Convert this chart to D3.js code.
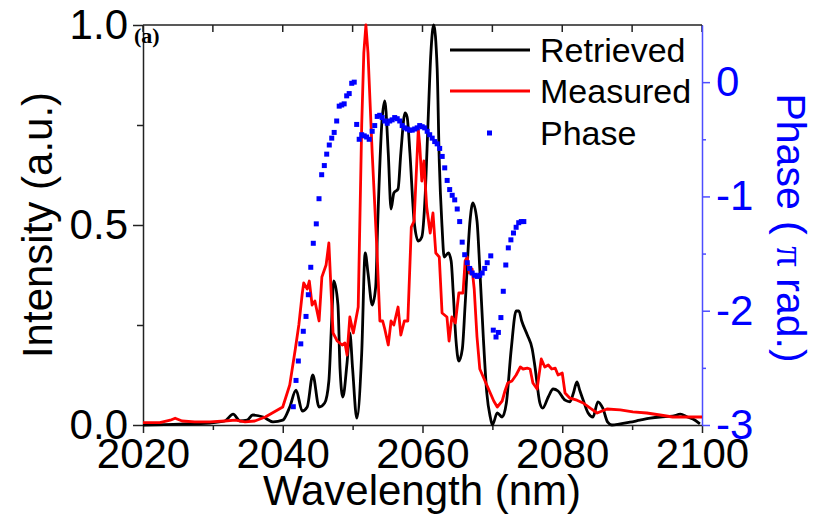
<!DOCTYPE html>
<html>
<head>
<meta charset="UTF-8" />
<script src="https://cdn.jsdelivr.net/npm/d3@7"></script>
<style>
    body { margin: 0; background: #fff; }
    svg text { font-family: "Liberation Sans", Arial, sans-serif; }
</style>
</head>
<body>
<div id="chart"></div>
<script>
// Retrieved spectrum (black)
const retrievedWl = [2020.0, 2025.3, 2029.6, 2031.7, 2032.9, 2033.9, 2034.9, 2035.7, 2037.2, 2038.6,
    2040.0, 2041.0, 2041.9, 2042.8, 2043.5, 2044.3, 2045.2, 2046.0, 2046.6, 2047.0,
    2047.3, 2047.9, 2048.2, 2048.6, 2049.2, 2049.6, 2050.0, 2050.6, 2051.3, 2051.8,
    2052.2, 2052.8, 2053.3, 2053.6, 2054.2, 2054.6, 2055.1, 2055.5, 2055.9, 2056.5,
    2056.9, 2057.5, 2057.8, 2058.2, 2058.8, 2059.4, 2059.9, 2060.4, 2060.8, 2061.2,
    2061.6, 2062.1, 2062.4, 2062.8, 2063.1, 2063.7, 2064.1, 2064.4, 2064.8, 2065.2,
    2065.7, 2066.1, 2066.8, 2067.2, 2067.8, 2068.2, 2068.7, 2069.2, 2069.7, 2070.0,
    2070.7, 2071.4, 2072.0, 2072.7, 2073.4, 2073.8, 2074.2, 2075.0, 2075.7, 2076.1,
    2076.8, 2077.2, 2078.0, 2078.7, 2079.4, 2080.4, 2081.1, 2081.6, 2082.1, 2082.5,
    2083.0, 2083.7, 2084.4, 2085.1, 2085.8, 2086.5, 2087.1, 2088.3, 2089.7, 2091.1,
    2092.6, 2094.0, 2095.8, 2096.9, 2097.9, 2098.7, 2099.7];
const retrievedInt = [0.000, 0.002, 0.005, 0.010, 0.027, 0.010, 0.012, 0.025, 0.020, 0.008,
    0.012, 0.045, 0.087, 0.035, 0.045, 0.125, 0.045, 0.055, 0.110, 0.260,
    0.360, 0.300, 0.140, 0.070, 0.155, 0.230, 0.140, 0.017, 0.180, 0.430,
    0.380, 0.300, 0.345, 0.510, 0.760, 0.810, 0.680, 0.540, 0.580, 0.590,
    0.680, 0.780, 0.770, 0.680, 0.510, 0.460, 0.470, 0.580, 0.760, 0.930,
    1.000, 0.890, 0.660, 0.495, 0.420, 0.430, 0.410, 0.330, 0.210, 0.160,
    0.190, 0.300, 0.510, 0.555, 0.510, 0.390, 0.220, 0.080, 0.020, 0.000,
    0.030, 0.020, 0.055, 0.190, 0.285, 0.285, 0.260, 0.225, 0.190, 0.145,
    0.055, 0.042, 0.070, 0.090, 0.085, 0.062, 0.058, 0.080, 0.108, 0.087,
    0.062, 0.030, 0.020, 0.058, 0.042, 0.007, 0.000, 0.003, 0.007, 0.012,
    0.017, 0.020, 0.022, 0.027, 0.020, 0.015, 0.003];

// Measured spectrum (red)
const measuredWl = [2020.0, 2022.4, 2023.9, 2024.6, 2025.6, 2027.4, 2029.6, 2031.7, 2033.2, 2034.6,
    2036.0, 2037.5, 2038.5, 2040.0, 2041.0, 2041.8, 2042.3, 2042.8, 2043.0, 2043.5,
    2043.8, 2044.2, 2044.6, 2045.2, 2045.6, 2046.2, 2046.6, 2047.2, 2047.8, 2048.5,
    2048.9, 2049.2, 2049.6, 2050.1, 2050.8, 2051.3, 2051.6, 2051.9, 2052.2, 2052.8,
    2053.5, 2053.9, 2054.3, 2054.6, 2055.1, 2055.5, 2055.9, 2056.5, 2056.9, 2057.4,
    2057.9, 2058.4, 2058.8, 2059.4, 2059.6, 2059.9, 2060.2, 2060.6, 2061.1, 2061.5,
    2061.9, 2062.4, 2062.8, 2063.5, 2063.8, 2064.2, 2064.7, 2065.2, 2065.8, 2066.1,
    2066.4, 2066.7, 2067.1, 2067.4, 2067.8, 2068.2, 2068.7, 2069.2, 2069.7, 2070.2,
    2070.7, 2071.4, 2071.8, 2072.2, 2072.8, 2073.4, 2074.0, 2074.4, 2075.0, 2075.4,
    2075.8, 2076.4, 2077.0, 2077.5, 2078.0, 2078.5, 2079.0, 2079.4, 2080.0, 2080.4,
    2081.1, 2082.1, 2083.0, 2084.0, 2085.0, 2086.4, 2088.3, 2090.1, 2092.1, 2094.0,
    2095.8, 2097.9, 2100.0];
const measuredInt = [0.006, 0.006, 0.012, 0.017, 0.010, 0.008, 0.008, 0.010, 0.012, 0.008,
    0.010, 0.020, 0.030, 0.045, 0.100, 0.190, 0.250, 0.330, 0.355, 0.340,
    0.360, 0.300, 0.310, 0.260, 0.370, 0.400, 0.455, 0.230, 0.210, 0.200,
    0.205, 0.175, 0.270, 0.230, 0.295, 0.750, 0.930, 1.000, 0.930, 0.680,
    0.430, 0.260, 0.260, 0.240, 0.200, 0.260, 0.250, 0.295, 0.225, 0.260,
    0.260, 0.495, 0.510, 0.740, 0.700, 0.610, 0.660, 0.545, 0.480, 0.530,
    0.430, 0.420, 0.280, 0.270, 0.210, 0.270, 0.255, 0.330, 0.330, 0.410,
    0.420, 0.380, 0.390, 0.340, 0.220, 0.140, 0.120, 0.100, 0.080, 0.060,
    0.045, 0.060, 0.085, 0.105, 0.110, 0.125, 0.145, 0.140, 0.142, 0.140,
    0.105, 0.090, 0.165, 0.145, 0.150, 0.140, 0.142, 0.125, 0.130, 0.080,
    0.067, 0.062, 0.055, 0.042, 0.030, 0.040, 0.038, 0.033, 0.030, 0.025,
    0.020, 0.020, 0.020];

// Spectral phase (blue squares), units of pi rad
const phaseWl = [2041.51, 2041.90, 2042.23, 2042.58, 2042.94, 2043.33, 2043.66, 2044.01, 2044.37, 2044.80,
    2045.19, 2045.57, 2045.95, 2046.29, 2046.66, 2047.01, 2047.36, 2047.72, 2048.08, 2048.44,
    2048.79, 2049.15, 2049.51, 2049.87, 2050.23, 2050.58, 2050.94, 2051.30, 2051.66, 2052.01,
    2052.37, 2052.80, 2053.16, 2053.52, 2053.87, 2054.23, 2054.59, 2054.95, 2055.31, 2055.66,
    2056.02, 2056.38, 2056.74, 2057.09, 2057.45, 2057.81, 2058.17, 2058.53, 2058.88, 2059.24,
    2059.60, 2059.96, 2060.32, 2060.67, 2061.03, 2061.39, 2061.75, 2062.10, 2062.46, 2062.82,
    2063.18, 2063.53, 2063.89, 2064.25, 2064.61, 2064.97, 2065.32, 2065.68, 2066.04, 2066.40,
    2066.75, 2067.11, 2067.47, 2067.83, 2068.19, 2068.54, 2068.90, 2069.26, 2069.77, 2070.13,
    2070.52, 2070.86, 2071.22, 2071.56, 2071.92, 2072.28, 2072.65, 2073.02, 2073.40, 2073.77,
    2074.14, 2074.50];
const phaseVal = [-2.84, -2.61, -2.44, -2.29, -2.18, -2.05, -1.86, -1.62, -1.41, -1.24,
    -1.02, -0.81, -0.73, -0.63, -0.55, -0.49, -0.44, -0.34, -0.21, -0.20,
    -0.19, -0.12, -0.10, -0.01, 0.00, -0.37, -0.50, -0.46, -0.47, -0.48,
    -0.50, -0.43, -0.38, -0.30, -0.29, -0.31, -0.34, -0.36, -0.34, -0.33,
    -0.31, -0.32, -0.34, -0.38, -0.40, -0.41, -0.42, -0.42, -0.41, -0.40,
    -0.38, -0.39, -0.40, -0.43, -0.46, -0.49, -0.52, -0.54, -0.58, -0.65,
    -0.75, -0.86, -0.94, -0.99, -1.03, -1.11, -1.22, -1.40, -1.51, -1.58,
    -1.63, -1.67, -1.69, -1.70, -1.69, -1.67, -1.63, -1.58, -1.52, -2.17,
    -2.23, -2.19, -2.06, -1.83, -1.60, -1.45, -1.38, -1.32, -1.27, -1.23,
    -1.22, -1.22];

const xMajor = [2020, 2040, 2060, 2080, 2100];
const xMinor = [2030, 2050, 2070, 2090];
const intMajor = [0, 0.5, 1.0];
const intMinor = [0.25, 0.75];
const phaseMajor = [0, -1, -2, -3];
const phaseMinor = [-0.5, -1.5, -2.5];
const legendNames = ["Retrieved", "Measured", "Phase"];

const W = 823, H = 516;
const L = 143, R = 702, T = 25, B = 425;

const svg = d3.select("#chart").append("svg")
    .attr("width", W).attr("height", H);

const x = d3.scaleLinear().domain([2020, 2100]).range([L, R]);
const yI = d3.scaleLinear().domain([0, 1]).range([B, T]);
const yP = d3.scaleLinear().domain([-3, 0.5]).range([B, T]);

const axisColor = "#222";
const blueAxis = "#4d4dff";

function styleAxis(g, col, textCol) {
    g.select(".domain").attr("stroke", col).attr("stroke-width", 1.5);
    g.selectAll(".tick line").attr("stroke", col).attr("stroke-width", 1.5);
    g.selectAll(".tick text").attr("fill", textCol)
        .style("font-family", '"Liberation Sans", Arial, sans-serif')
        .style("font-size", "42px");
}

// top frame with inward ticks
svg.append("line").attr("x1", L).attr("x2", R).attr("y1", T).attr("y2", T)
    .attr("stroke", axisColor).attr("stroke-width", 1.5);
svg.selectAll(".topTick").data(xMajor.concat(xMinor)).enter().append("line")
    .attr("x1", d => x(d)).attr("x2", d => x(d))
    .attr("y1", T).attr("y2", T + 7)
    .attr("stroke", axisColor).attr("stroke-width", 1.5);

// bottom axis
const gx = svg.append("g").attr("transform", `translate(0,${B})`)
    .call(d3.axisBottom(x).tickValues(xMajor).tickSize(8).tickSizeOuter(0)
        .tickPadding(5).tickFormat(d3.format("d")));
styleAxis(gx, axisColor, "#000");
const gxm = svg.append("g").attr("transform", `translate(0,${B})`)
    .call(d3.axisBottom(x).tickValues(xMinor).tickSize(5).tickFormat(""));
gxm.select(".domain").remove();
gxm.selectAll(".tick line").attr("stroke", axisColor).attr("stroke-width", 1.5);

// left axis
const gy = svg.append("g").attr("transform", `translate(${L},0)`)
    .call(d3.axisLeft(yI).tickValues(intMajor).tickSize(10).tickSizeOuter(0)
        .tickPadding(5).tickFormat(d3.format(".1f")));
styleAxis(gy, axisColor, "#000");
const gym = svg.append("g").attr("transform", `translate(${L},0)`)
    .call(d3.axisLeft(yI).tickValues(intMinor).tickSize(6).tickFormat(""));
gym.select(".domain").remove();
gym.selectAll(".tick line").attr("stroke", axisColor).attr("stroke-width", 1.5);

// right (phase) axis
const gp = svg.append("g").attr("transform", `translate(${R},0)`)
    .call(d3.axisRight(yP).tickValues(phaseMajor).tickSize(8).tickSizeOuter(0)
        .tickPadding(6).tickFormat(d => String(d)));
styleAxis(gp, blueAxis, "#0000ff");
const gpm = svg.append("g").attr("transform", `translate(${R},0)`)
    .call(d3.axisRight(yP).tickValues(phaseMinor).tickSize(4).tickFormat(""));
gpm.select(".domain").remove();
gpm.selectAll(".tick line").attr("stroke", blueAxis).attr("stroke-width", 1.5);

// axis titles
svg.append("text").attr("transform", "translate(52,225) rotate(-90)")
    .attr("text-anchor", "middle").style("font-size", "42px").attr("fill", "#000")
    .text("Intensity (a.u.)");
svg.append("text").attr("x", 422).attr("y", 505)
    .attr("text-anchor", "middle").style("font-size", "42px").attr("fill", "#000")
    .text("Wavelength (nm)");
const pt = svg.append("text").attr("transform", "translate(777,228) rotate(90)")
    .attr("text-anchor", "middle").style("font-size", "41px").attr("fill", "#0000ff");
pt.append("tspan").text("Phase ( ");
pt.append("tspan").style("font-family", '"Liberation Serif", serif').text("π");
pt.append("tspan").text(" rad.)");

svg.append("text").attr("x", 134).attr("y", 43)
    .style("font-family", '"Liberation Serif", serif').style("font-weight", "bold")
    .style("font-size", "22px").text("(a)");

// curves
const retrieved = retrievedWl.map((w, i) => [w, retrievedInt[i]]);
const measured = measuredWl.map((w, i) => [w, measuredInt[i]]);
const phase = phaseWl.map((w, i) => [w, phaseVal[i]]);

svg.append("path").datum(retrieved)
    .attr("fill", "none").attr("stroke", "#000").attr("stroke-width", 2.8)
    .attr("stroke-linejoin", "round")
    .attr("d", d3.line().x(d => x(d[0])).y(d => yI(d[1])).curve(d3.curveMonotoneX));
svg.append("path").datum(measured)
    .attr("fill", "none").attr("stroke", "#ff0000").attr("stroke-width", 2.8)
    .attr("stroke-linejoin", "round")
    .attr("d", d3.line().x(d => x(d[0])).y(d => yI(d[1])));
svg.selectAll(".ph").data(phase).enter().append("rect")
    .attr("x", d => x(d[0]) - 2.5).attr("y", d => yP(d[1]) - 2.5)
    .attr("width", 5).attr("height", 5).attr("fill", "#0000ff");

// legend
const lg = svg.append("g");
const rowY = [50, 91, 133];
lg.append("line").attr("x1", 450).attr("x2", 530).attr("y1", rowY[0]).attr("y2", rowY[0])
    .attr("stroke", "#000").attr("stroke-width", 2.8);
lg.append("line").attr("x1", 450).attr("x2", 530).attr("y1", rowY[1]).attr("y2", rowY[1])
    .attr("stroke", "#ff0000").attr("stroke-width", 2.8);
lg.append("rect").attr("x", 487).attr("y", rowY[2] - 2.5).attr("width", 5).attr("height", 5)
    .attr("fill", "#0000ff");
lg.selectAll(".lt").data(legendNames).enter().append("text")
    .attr("x", 540).attr("y", (d, i) => rowY[i] + 12)
    .style("font-size", "34px").attr("fill", "#000").text(d => d);
</script>
</body>
</html>
